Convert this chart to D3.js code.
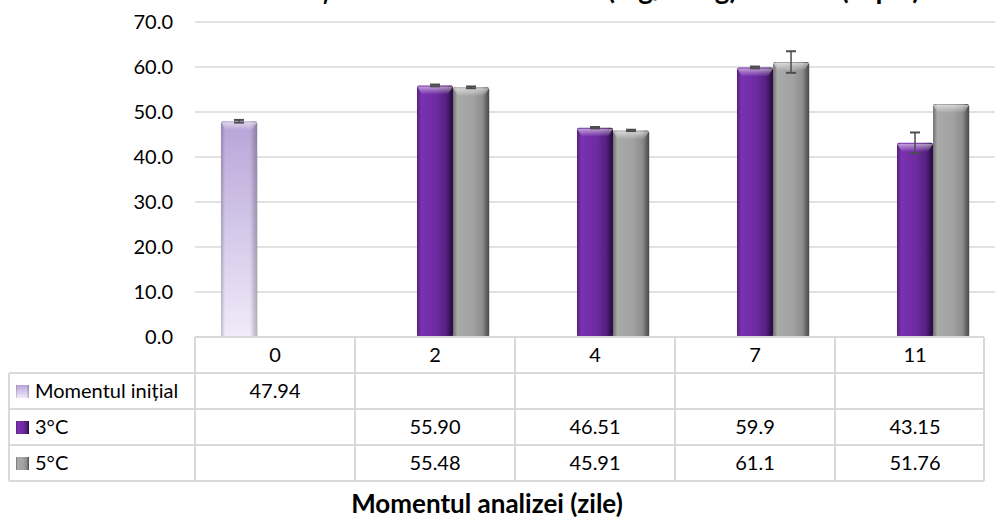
<!DOCTYPE html>
<html><head><meta charset="utf-8">
<script src="https://cdn.jsdelivr.net/npm/d3@7"></script>
<style>
body{margin:0;background:#fff}
text{font-family:Lato,"Open Sans",sans-serif;fill:#000}
</style>
</head><body>
<svg id="chart" width="995" height="518"></svg>
<script>
// Sampling days (categories) and series
const days = ["0", "2", "4", "7", "11"];
const seriesNames = ["Momentul inițial", "3°C", "5°C"];
const initialValues = [47.94, null, null, null, null];
const values3C = [null, 55.90, 46.51, 59.9, 43.15];
const values5C = [null, 55.48, 45.91, 61.1, 51.76];
// Standard deviations shown as error bars
const initialErr = [0.3, null, null, null, null];
const err3C = [null, 0.2, 0.15, 0.2, 2.3];
const err5C = [null, 0.2, 0.15, 2.4, 0];
// Text shown in the data table
const initialLabels = ["47.94", "", "", "", ""];
const labels3C = ["", "55.90", "46.51", "59.9", "43.15"];
const labels5C = ["", "55.48", "45.91", "61.1", "51.76"];
const yTicks = [0, 10, 20, 30, 40, 50, 60, 70];
const chartTitle = "Dinamica conținutului de vitamina C (mg/100g) la ardei (capia)";
const axisTitle = "Momentul analizei (zile)";

const series = [
  {name: seriesNames[0], values: initialValues, err: initialErr, labels: initialLabels, key: "init"},
  {name: seriesNames[1], values: values3C, err: err3C, labels: labels3C, key: "c3"},
  {name: seriesNames[2], values: values5C, err: err5C, labels: labels5C, key: "c5"}
];

const svg = d3.select("#chart");
const plotLeft = 195, plotRight = 995, plotTop = 22, plotBottom = 337;
const tableLeft = 9, tableRight = 984, rowH = 36;
const tableFont = 20;

const x = d3.scaleBand().domain(days).range([plotLeft, plotRight]);
const xs = d3.scaleBand().domain(seriesNames).range([0, x.bandwidth()])
  .paddingInner(0).paddingOuter(0.72);
const y = d3.scaleLinear().domain([0, 70]).range([plotBottom, plotTop]);

// Gradients giving the bars their rounded, shaded look
const defs = svg.append("defs");
function grad(id, vertical, stops) {
  const g = defs.append("linearGradient").attr("id", id)
    .attr("x1", 0).attr("y1", 0).attr("x2", vertical ? 0 : 1).attr("y2", vertical ? 1 : 0);
  stops.forEach(s => g.append("stop").attr("offset", s[0]).attr("stop-color", s[1])
    .attr("stop-opacity", s[2] == null ? 1 : s[2]));
}
grad("g-c3", false, [[0, "#6a2a98"], [0.12, "#7b31b0"], [0.55, "#6e2ba2"], [0.85, "#4f1e78"], [1, "#33104f"]]);
grad("g-c5", false, [[0, "#8e8e8e"], [0.12, "#a9a9a9"], [0.55, "#a2a2a2"], [0.85, "#8a8a8a"], [1, "#626262"]]);
grad("g-init", true, [[0, "#b8a4d8"], [1, "#f1ebfa"]]);
grad("g-edge", false, [[0, "#000", 0.2], [0.12, "#000", 0.0], [0.8, "#000", 0.0], [1, "#000", 0.25]]);
grad("g-top", true, [[0, "#fff", 0.55], [1, "#fff", 0]]);

// Gridlines and y-axis labels
const yAxis = d3.axisLeft(y).tickValues(yTicks).tickFormat(d3.format(".1f")).tickSize(0).tickPadding(0);
const ya = svg.append("g").attr("transform", "translate(173,0)").call(yAxis);
ya.select(".domain").remove();
ya.selectAll("text").attr("font-size", 20).attr("fill", "#000")
  .style("font-family", "Lato,'Open Sans',sans-serif");

svg.append("g").selectAll("line").data(yTicks.filter(d => d > 0)).join("line")
  .attr("x1", plotLeft).attr("x2", plotRight)
  .attr("y1", d => y(d)).attr("y2", d => y(d))
  .attr("stroke", "#d9d9d9").attr("stroke-width", 1.5);

// Bars
const barG = svg.append("g");
series.forEach(s => {
  const pts = days.map((d, i) => ({day: d, v: s.values[i], e: s.err[i]})).filter(p => p.v != null);
  const g = barG.append("g");
  const bw = xs.bandwidth();
  pts.forEach(p => {
    const bx = x(p.day) + xs(s.name);
    const top = y(p.v), h = y(0) - top;
    g.append("rect").attr("x", bx + 1).attr("y", top + 1).attr("width", bw).attr("height", h)
      .attr("fill", "#000").attr("opacity", 0.12).attr("rx", 2);
    g.append("rect").attr("x", bx).attr("y", top).attr("width", bw).attr("height", h)
      .attr("fill", `url(#g-${s.key})`).attr("rx", 2);
    g.append("rect").attr("x", bx).attr("y", top).attr("width", bw).attr("height", h)
      .attr("fill", "url(#g-edge)").attr("rx", 2);
    // bevelled top
    g.append("path")
      .attr("d", `M${bx},${top + 1} L${bx + bw},${top + 1} L${bx + bw - 5},${top + 9} L${bx + 5},${top + 9} Z`)
      .attr("fill", "url(#g-top)");
  });
  // error bars
  const eb = pts.filter(p => p.e > 0);
  const cx = p => x(p.day) + xs(s.name) + bw / 2;
  g.selectAll("line.stem").data(eb).join("line").attr("class", "stem")
    .attr("x1", cx).attr("x2", cx)
    .attr("y1", p => y(p.v + p.e)).attr("y2", p => y(p.v - p.e))
    .attr("stroke", "#4d4d4d").attr("stroke-width", 1.5);
  [["capHi", 1], ["capLo", -1]].forEach(([cls, sign]) => {
    g.selectAll("line." + cls).data(eb).join("line").attr("class", cls)
      .attr("x1", p => cx(p) - 5).attr("x2", p => cx(p) + 5)
      .attr("y1", p => y(p.v + sign * p.e)).attr("y2", p => y(p.v + sign * p.e))
      .attr("stroke", "#4d4d4d").attr("stroke-width", 2);
  });
});

// Data table
const tg = svg.append("g");
const lineCol = "#d9d9d9";
const hLines = [0, 1, 2, 3, 4].map(r => ({y: plotBottom + r * rowH, x1: r === 0 ? plotLeft : tableLeft, x2: tableRight}));
tg.selectAll("line.h").data(hLines).join("line").attr("class", "h")
  .attr("x1", d => d.x1).attr("x2", d => d.x2).attr("y1", d => d.y).attr("y2", d => d.y)
  .attr("stroke", lineCol).attr("stroke-width", 2);
const vx = days.map(d => x(d)).concat([tableRight]);
tg.selectAll("line.v").data(vx).join("line").attr("class", "v")
  .attr("x1", d => d).attr("x2", d => d).attr("y1", plotBottom).attr("y2", plotBottom + 4 * rowH)
  .attr("stroke", lineCol).attr("stroke-width", 2);
tg.append("line").attr("x1", tableLeft).attr("x2", tableLeft)
  .attr("y1", plotBottom + rowH).attr("y2", plotBottom + 4 * rowH)
  .attr("stroke", lineCol).attr("stroke-width", 2);

// Category header row
tg.selectAll("text.cat").data(days).join("text").attr("class", "cat")
  .attr("x", d => x(d) + x.bandwidth() / 2).attr("y", plotBottom + rowH / 2)
  .attr("dy", "0.35em").attr("text-anchor", "middle").attr("font-size", tableFont).text(d => d);

// Series rows with legend keys
series.forEach((s, r) => {
  const rowY = plotBottom + (r + 1) * rowH + rowH / 2;
  tg.append("rect").attr("x", 16).attr("y", rowY - 6).attr("width", 13).attr("height", 13)
    .attr("fill", `url(#g-${s.key})`);
  tg.append("rect").attr("x", 16).attr("y", rowY - 6).attr("width", 13).attr("height", 13)
    .attr("fill", "url(#g-edge)");
  tg.append("text").attr("x", 35).attr("y", rowY).attr("dy", "0.35em")
    .attr("font-size", tableFont).text(s.name);
  tg.selectAll("text.lab" + r).data(days.map((d, i) => ({d, t: s.labels[i]}))).join("text")
    .attr("class", "lab" + r)
    .attr("x", p => x(p.d) + x.bandwidth() / 2).attr("y", rowY).attr("dy", "0.35em")
    .attr("text-anchor", "middle").attr("font-size", tableFont).text(p => p.t);
});

// Titles (the chart title sits at the top edge, only its lowest strokes in view)
svg.append("text").attr("x", 920).attr("y", -1).attr("text-anchor", "end")
  .attr("font-size", 28).attr("font-weight", "bold").text(chartTitle);
svg.append("text").attr("x", 487).attr("y", 513).attr("text-anchor", "middle")
  .attr("font-size", 26).attr("font-weight", "bold").text(axisTitle);
</script>
</body></html>
